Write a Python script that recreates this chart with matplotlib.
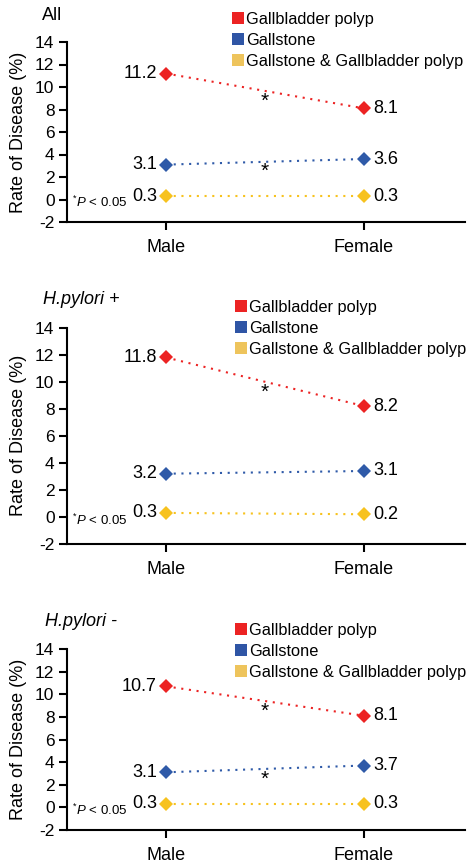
import matplotlib
matplotlib.use("Agg")
import matplotlib.pyplot as plt
from matplotlib.lines import Line2D

plt.rcParams['font.family'] = ['Liberation Sans', 'DejaVu Sans']
plt.rcParams['axes.unicode_minus'] = False
plt.rcParams['mathtext.fontset'] = 'custom'
plt.rcParams['mathtext.rm'] = 'Liberation Sans'
plt.rcParams['mathtext.it'] = 'Liberation Sans:italic'

# ---- data ----
sexes = ["Male", "Female"]
series_names = ["Gallbladder polyp", "Gallstone", "Gallstone & Gallbladder polyp"]
panel_titles = ["All", "H.pylori +", "H.pylori -"]
title_italic = [False, True, True]

# plotted positions
all_polyp = [11.2, 8.1]
all_stone = [3.1, 3.6]
all_both = [0.3, 0.3]
hpp_polyp = [11.8, 8.2]
hpp_stone = [3.2, 3.4]
hpp_both = [0.3, 0.2]
hpn_polyp = [10.7, 8.1]
hpn_stone = [3.1, 3.7]
hpn_both = [0.3, 0.3]

# printed value labels
all_labels = [["11.2", "8.1"], ["3.1", "3.6"], ["0.3", "0.3"]]
hpp_labels = [["11.8", "8.2"], ["3.2", "3.1"], ["0.3", "0.2"]]
hpn_labels = [["10.7", "8.1"], ["3.1", "3.7"], ["0.3", "0.3"]]

# significance asterisk y-values (between sexes)
all_stars = [9.0, 2.8]
hpp_stars = [9.5]
hpn_stars = [8.8, 2.8]

yticks = [-2, 0, 2, 4, 6, 8, 10, 12, 14]

panels = [
    ([all_polyp, all_stone, all_both], all_labels, all_stars),
    ([hpp_polyp, hpp_stone, hpp_both], hpp_labels, hpp_stars),
    ([hpn_polyp, hpn_stone, hpn_both], hpn_labels, hpn_stars),
]

marker_colors = ["#ec2323", "#2f5aa8", "#f7c21e"]
legend_colors = ["#ec2323", "#2f55a5", "#eec45c"]

W, H = 467, 865
fig = plt.figure(figsize=(W / 100, H / 100), dpi=100)

# axes boxes in pixels: (left, top, right, bottom)
boxes = [(67, 42, 465, 222), (67, 327.7, 465, 544), (67, 649, 465, 830)]
legend_anchor = [(231, 12), (234, 300), (234, 623)]
title_pos = [(42, 15), (43, 300), (45, 622)]

for i, (vals, labels, stars) in enumerate(panels):
    l, t, r, b = boxes[i]
    ax = fig.add_axes([l / W, (H - b) / H, (r - l) / W, (b - t) / H])
    x = list(range(len(sexes)))
    for s, (v, c) in enumerate(zip(vals, marker_colors)):
        ax.plot(x, v, linestyle=(0, (1, 2.7)), lw=1.5, color=c,
                marker='D', markersize=7.5, markeredgewidth=0, zorder=3)
        ax.annotate(labels[s][0], (x[0], v[0]), xytext=(-6.5, 0),
                    textcoords='offset points', ha='right', va='center',
                    fontsize=13)
        ax.annotate(labels[s][1], (x[1], v[1]), xytext=(7, 0),
                    textcoords='offset points', ha='left', va='center',
                    fontsize=13)
    for sy in stars:
        ax.annotate("*", (0.5, sy), xytext=(0, -2.5), textcoords='offset points',
                    ha='center', va='center', fontsize=15)
    ax.text(-0.475, -0.25, r"$^{*}\mathit{P}$ < 0.05", ha='left', va='center',
            fontsize=9.5)
    ax.set_xlim(-0.5, 1.51)
    ax.set_ylim(-2, 14)
    ax.set_yticks(yticks)
    ax.set_yticklabels([str(v) for v in yticks])
    ax.set_xticks(x)
    ax.set_xticklabels(sexes)
    for sp in ['top', 'right']:
        ax.spines[sp].set_visible(False)
    for sp in ['left', 'bottom']:
        ax.spines[sp].set_linewidth(1.5)
    ax.tick_params(axis='both', direction='out', length=6, width=1.5,
                   labelsize=12.5)
    ax.tick_params(axis='y', pad=3)
    ax.tick_params(axis='x', pad=6.5, labelsize=13)
    ax.set_ylabel("Rate of Disease (%)", fontsize=13, labelpad=6)

    handles = [Line2D([], [], marker='s', linestyle='none', markersize=8,
                      markerfacecolor=c, markeredgewidth=0) for c in legend_colors]
    lx, ly = legend_anchor[i]
    ax.legend(handles, series_names, loc='upper left',
              bbox_to_anchor=(lx / W, (H - ly) / H), bbox_transform=fig.transFigure,
              frameon=False, fontsize=11.8, borderpad=0, borderaxespad=0,
              handlelength=0.8, handletextpad=0.1, labelspacing=0.36)

    tx, ty = title_pos[i]
    fig.text(tx / W, (H - ty) / H, panel_titles[i], ha='left', va='center',
             fontsize=13, style='italic' if title_italic[i] else 'normal')

fig.savefig("out.png", dpi=100)
